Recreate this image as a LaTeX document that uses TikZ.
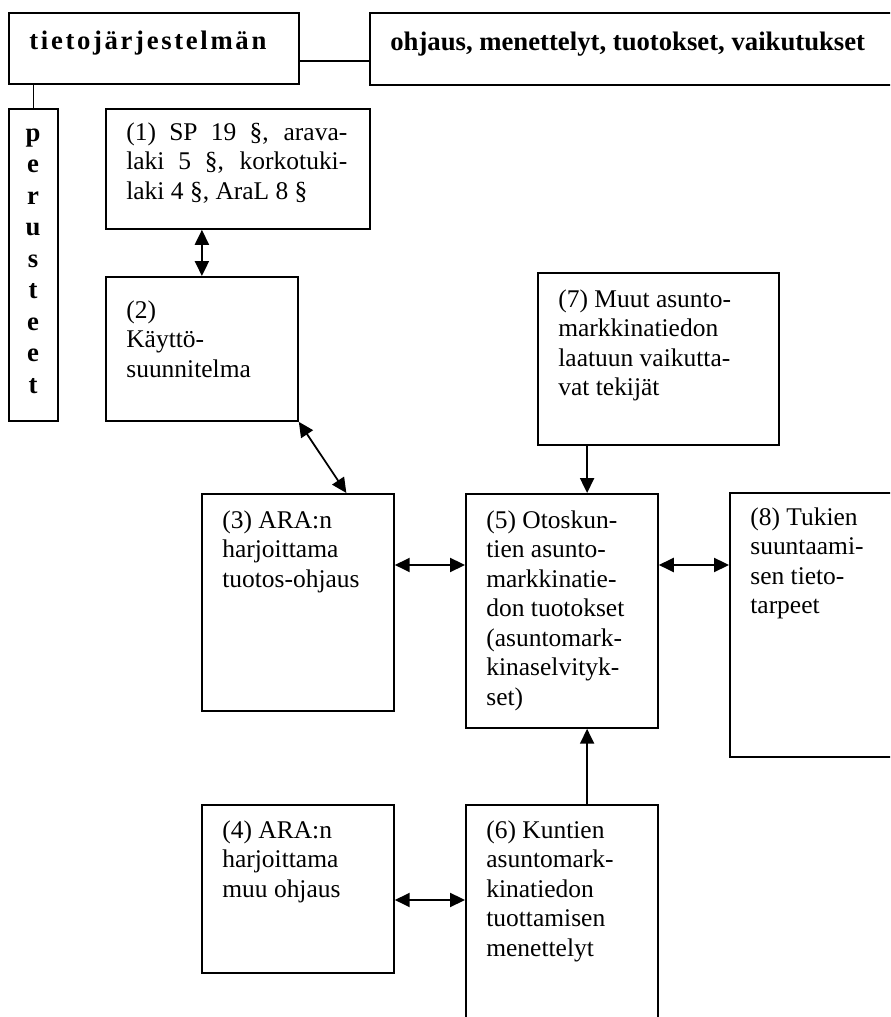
\documentclass[tikz,border=0pt]{standalone}
\usepackage{fontspec}
\setmainfont{Liberation Serif}
\usetikzlibrary{arrows.meta,calc,positioning}
\newcommand\boxfont{\fontsize{14.5}{16.8}\selectfont}
\newcommand\headfont{\fontsize{15.2}{17}\selectfont\bfseries}

\begin{document}
\begin{tikzpicture}[x=0.02cm, y=-0.02cm, font=\boxfont,
  box/.style={draw, line width=1.05pt, anchor=north west, inner sep=0pt},
  txt/.style={anchor=north west, inner sep=0pt, align=left},
  link/.style={line width=1pt},
  both/.style={link, {Triangle[length=8.5pt,width=8pt]}-{Triangle[length=8.5pt,width=8pt]}},
  one/.style={link, -{Triangle[length=8.5pt,width=8pt]}}]
\useasboundingbox (0,0) rectangle (890,1017);
\clip (0,0) rectangle (890,1017);
%% header
\node[box, minimum width=5.8cm, minimum height=1.42cm] (tj) at (8,12) {};
\node[box, minimum width=12cm, minimum height=1.44cm] (oh) at (369,12) {};
\node[anchor=base west, inner sep=0pt, font=\headfont\addfontfeature{LetterSpace=10}]
  (tjt) at ([shift={(21,1.5)}]tj.west) {tietojärjestelmän};
\node[anchor=base west, inner sep=0pt, font=\headfont]
  (oht) at ([shift={(21,1.5)}]oh.west) {ohjaus, menettelyt, tuotokset, vaikutukset};
\draw[link] ([yshift=-0.25cm]tj.east) -- ([yshift=-0.25cm]tj.east -| oh.west);
%% perusteet, one letter a line
\node[box, minimum width=0.98cm, minimum height=6.24cm] (pe) at (8,108) {};
\foreach \ch [count=\i] in {p,e,r,u,s,t,e,e,t}
  \node[anchor=base, inner sep=0pt, font=\headfont] (pe\i) at (33,109.5+31.5*\i) {\ch};
\draw[link] (pe.north) -- (pe.north |- tj.south);
%% boxes
\node[box, minimum width=5.28cm, minimum height=2.4cm] (b1) at (105,108) {};
\node[box, minimum width=3.84cm, minimum height=2.88cm] (b2) at (105,276) {};
\node[box, minimum width=4.82cm, minimum height=3.44cm] (b7) at (537,272) {};
\node[box, minimum width=3.84cm, minimum height=4.34cm] (b3) at (201,493) {};
\node[box, minimum width=3.84cm, minimum height=4.68cm] (b5) at (465,493) {};
\node[box, minimum width=6cm, minimum height=5.28cm] (b8) at (729,492) {};
\node[box, minimum width=3.84cm, minimum height=3.36cm] (b4) at (201,804) {};
\node[box, minimum width=3.84cm, minimum height=6cm] (b6) at (465,804) {};
%% texts
\node[txt, text width=4.42cm, align=justify] (t1) at ([shift={(21,14)}]b1.north west)
  {(1) SP 19 §, arava-\linebreak laki 5 §, korkotuki-\linebreak laki 4 §, AraL 8 §};
\node[txt] (t2) at ([shift={(21,24)}]b2.north west) {(2)\\Käyttö-\\suunnitelma};
\node[txt] (t7) at ([shift={(21,17)}]b7.north west) {(7) Muut asunto-\\markkinatiedon\\laatuun vaikutta-\\vat tekijät};
\node[txt] (t3) at ([shift={(21,17)}]b3.north west) {(3) ARA:n\\harjoittama\\tuotos-ohjaus};
\node[txt] (t5) at ([shift={(21,17)}]b5.north west) {(5) Otoskun-\\tien asunto-\\markkinatie-\\don tuotokset\\(asuntomark-\\kinaselvityk-\\set)};
\node[txt] (t8) at ([shift={(21,15)}]b8.north west) {(8) Tukien\\suuntaami-\\sen tieto-\\tarpeet};
\node[txt] (t4) at ([shift={(21,16)}]b4.north west) {(4) ARA:n\\harjoittama\\muu ohjaus};
\node[txt] (t6) at ([shift={(21,16)}]b6.north west) {(6) Kuntien\\asuntomark-\\kinatiedon\\tuottamisen\\menettelyt};
%% arrows
\coordinate (m5) at ($(b5.north west)!0.63!(b5.north east)$);
\draw[both] (b2.north) -- (b2.north |- b1.south);
\draw[both] (b2.south east) -- ($(b3.north west)!0.75!(b3.north east)$);
\draw[one] (m5 |- b7.south) -- (m5);
\draw[one] (m5 |- b6.north) -- (m5 |- b5.south);
\draw[both] ([yshift=-1.44cm]b3.north east) -- ([yshift=-1.44cm]b3.north east -| b5.west);
\draw[both] ([yshift=-1.44cm]b5.north east) -- ([yshift=-1.44cm]b5.north east -| b8.west);
\draw[both] ([yshift=-1.92cm]b4.north east) -- ([yshift=-1.92cm]b4.north east -| b6.west);
\end{tikzpicture}
\end{document}
